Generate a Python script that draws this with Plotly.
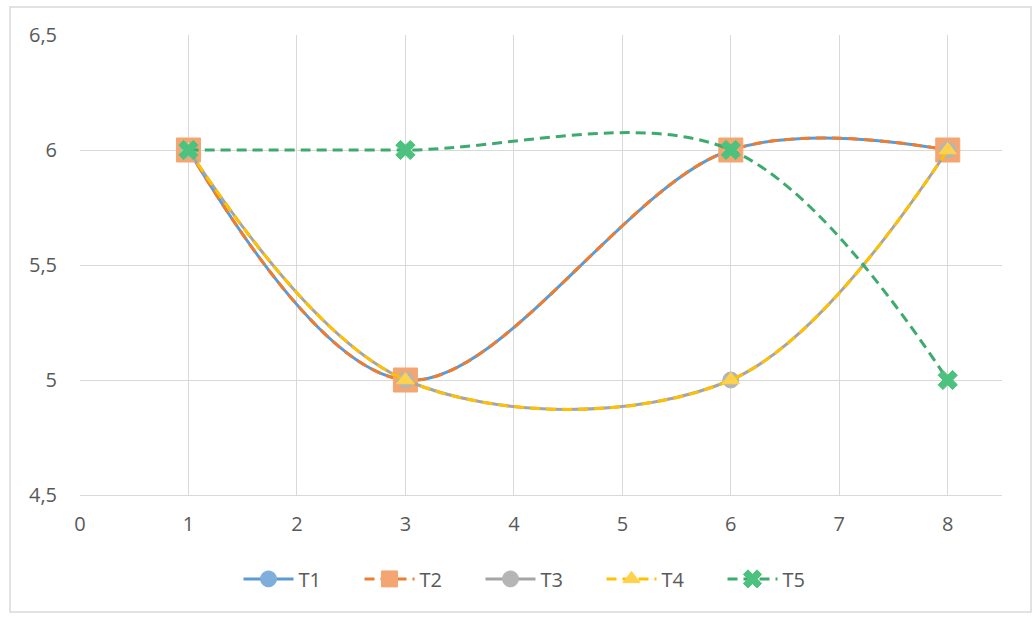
import plotly.graph_objects as go

# Series data
x_t1 = [1, 3, 6, 8]
y_t1 = [6, 5, 6, 6]
x_t2 = [1, 3, 6, 8]
y_t2 = [6, 5, 6, 6]
x_t3 = [1, 3, 6, 8]
y_t3 = [6, 5, 5, 6]
x_t4 = [1, 3, 6, 8]
y_t4 = [6, 5, 5, 6]
x_t5 = [1, 3, 6, 8]
y_t5 = [6, 6, 6, 5]

x_ticks = [0, 1, 2, 3, 4, 5, 6, 7, 8]
y_ticks = [4.5, 5, 5.5, 6, 6.5]
y_tick_labels = ["4,5", "5", "5,5", "6", "6,5"]

W, H = 1035, 617
ML, MR, MT, MB = 80, 33, 35, 122

fig = go.Figure()

series = [
    ("T1", x_t1, y_t1, "#5B9BD5", "solid", "circle", 16, "#7FAEDC"),
    ("T2", x_t2, y_t2, "#ED7D31", "10px,6px", "square", 24, "#F4A672"),
    ("T3", x_t3, y_t3, "#A5A5A5", "solid", "circle", 16, "#B5B5B5"),
    ("T4", x_t4, y_t4, "#FFC000", "10px,6px", "triangle-up", 15, "#FFD24D"),
    ("T5", x_t5, y_t5, "#3DAA6E", "10px,6px", "x", 17, "#4CC27E"),
]

for name, xs, ys, col, dash, sym, size, mcol in series:
    fig.add_trace(go.Scatter(
        x=xs, y=ys, name=name,
        mode="lines+markers",
        line=dict(color=col, width=3, dash=dash, shape="spline", smoothing=1.0),
        marker=dict(symbol=sym, size=size, color=mcol,
                    line=dict(color=mcol, width=1)),
    ))

pw = W - ML - MR
ph = H - MT - MB

# Outer chart border
fig.add_shape(
    type="rect", xref="paper", yref="paper",
    x0=(10 - ML) / pw, x1=(1031 - ML) / pw,
    y0=1 - (612 - MT) / ph, y1=1 + (MT - 7) / ph,
    line=dict(color="#D9D9D9", width=1.5), fillcolor="rgba(0,0,0,0)",
    layer="below",
)

fig.update_layout(
    width=W, height=H,
    margin=dict(l=ML, r=MR, t=MT, b=MB),
    paper_bgcolor="white", plot_bgcolor="white",
    font=dict(family="Open Sans, DejaVu Sans, sans-serif", size=20, color="#595959"),
    legend=dict(orientation="h", x=0.5, xanchor="center", y=-0.14, yanchor="top",
                font=dict(size=20, color="#595959"), itemwidth=50,
                entrywidth=56, tracegroupgap=0),
    xaxis=dict(range=[0, 8.5], tickvals=x_ticks, showgrid=True, gridcolor="#D9D9D9",
               gridwidth=1, zeroline=False, showline=True, linecolor="#D9D9D9",
               ticks="", ticklabelstandoff=11,
               tickfont=dict(size=20, color="#595959")),
    yaxis=dict(range=[4.5, 6.5], tickvals=y_ticks, ticktext=y_tick_labels,
               showgrid=True, gridcolor="#D9D9D9", gridwidth=1, zeroline=False,
               showline=False, ticks="", ticklabelstandoff=22,
               tickfont=dict(size=20, color="#595959")),
    showlegend=True,
)

fig.write_html("out.html")
